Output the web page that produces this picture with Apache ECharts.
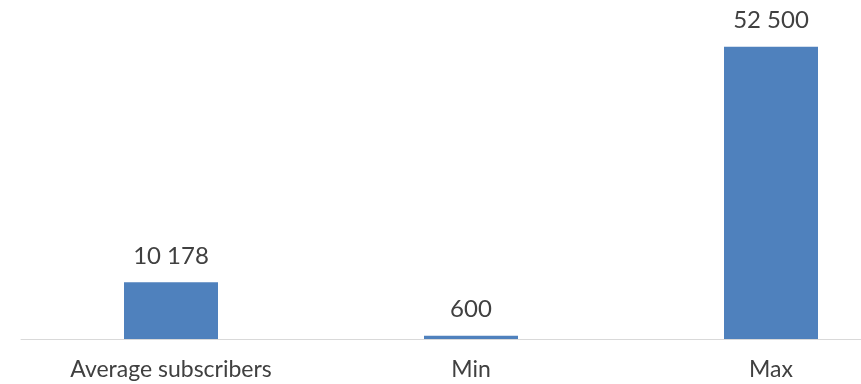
<!DOCTYPE html>
<html>
<head>
<meta charset="utf-8">
<script src="https://cdn.jsdelivr.net/npm/echarts@6/dist/echarts.min.js"></script>
<style>
  html, body { margin: 0; padding: 0; background: #fff; overflow: hidden; width: 861px; height: 384px; }
  /* the category axis runs past the right edge in the original, so the chart is wider than the page */
  #chart { width: 921px; height: 384px; }
</style>
</head>
<body>
<div id="chart"></div>
<script>
  var categories = ['Average subscribers', 'Min', 'Max'];
  var values = [10178, 600, 52500];

  function fmt(v) {
    return String(v).replace(/\B(?=(\d{3})+(?!\d))/g, ' ');
  }

  var myChart = echarts.init(document.getElementById('chart'));
  var options = {
    animation: false,
    textStyle: { fontFamily: 'Lato' },
    grid: {
      left: 21,
      right: 0,
      top: 5,
      bottom: 45
    },
    xAxis: [{
      type: 'category',
      data: categories,
      axisLine: { lineStyle: { color: '#d9d9d9', width: 1 } },
      axisTick: { show: false },
      axisLabel: { color: '#404040', fontSize: 23, margin: 19, fontFamily: 'Lato' }
    }],
    yAxis: [{
      type: 'value',
      min: 0,
      max: 60000,
      show: false,
      splitLine: { show: false }
    }],
    series: [{
      type: 'bar',
      barWidth: 94,
      itemStyle: { color: '#4f81bd' },
      label: {
        show: true,
        position: 'top',
        distance: 14,
        color: '#404040',
        fontSize: 24,
        fontFamily: 'Lato',
        formatter: function (p) { return fmt(p.value); }
      },
      data: values
    }]
  };
  myChart.setOption(options, true);
</script>
</body>
</html>
